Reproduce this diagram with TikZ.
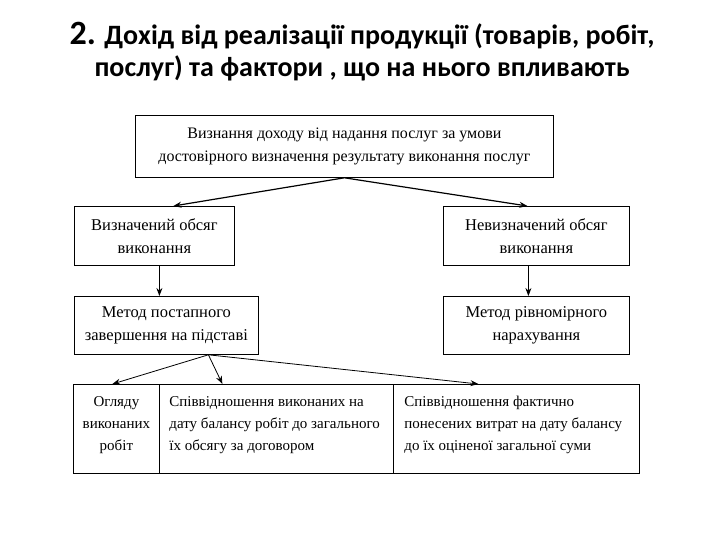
\documentclass[tikz,border=0pt]{standalone}
\usepackage{fontspec}
\setmainfont{Liberation Serif}
\newfontfamily\titlefont{Carlito}
\usetikzlibrary{arrows.meta,positioning}

\begin{document}
\begin{tikzpicture}[
  x=1pt, y=-1pt,
  >={Stealth[length=8pt,width=6pt]},
  box/.style={draw, line width=0.8pt, align=center, anchor=north west, inner sep=0pt,
    font=\fontsize{16.5}{23}\selectfont},
  cell/.style={box, minimum height=89pt, font=\fontsize{15}{22}\selectfont},
  arr/.style={->, line width=1.2pt},
  thinarr/.style={->, line width=0.8pt},
]
  \useasboundingbox (0,0) rectangle (720,540);

  % Title
  \node[font=\titlefont\bfseries\fontsize{28}{32}\selectfont, align=center] (title) at (362,52)
    {{\fontsize{34}{32}\selectfont 2.} Дохід від реалізації продукції (товарів, робіт,\\
     послуг) та фактори , що на нього впливають};

  % Top box
  \node[box, minimum width=418pt, minimum height=62pt, font=\fontsize{16}{23}\selectfont] (recog) at (135,115)
    {Визнання доходу від надання послуг за умови\\
     достовірного визначення результату виконання послуг};

  % Second row
  \node[box, minimum width=160pt, minimum height=59pt] (defined) at (74,206)
    {Визначений обсяг\\виконання};
  \node[box, minimum width=186pt, minimum height=59pt] (undefined) at (443,206)
    {Невизначений обсяг\\виконання};

  % Methods
  \node[box, minimum width=184pt, minimum height=58pt] (stagewise) at (74,296)
    {Метод постапного\\завершення на підставі};
  \node[box, minimum width=186pt, minimum height=58pt] (uniform) at (443,296)
    {Метод рівномірного\\нарахування};

  % Bottom cells
  \node[cell, minimum width=86pt] (review) at (73,384)
    {\begin{minipage}[c][89pt][t]{86pt}\centering\vspace{12pt}
     Огляду\\виконаних\\робіт\end{minipage}};
  \node[cell, minimum width=234pt, inner xsep=10pt] (works) at (159,384)
    {\begin{minipage}[c][89pt][t]{214pt}\raggedright\vspace{12pt}
     \mbox{Співвідношення виконаних на}\\\mbox{дату балансу робіт до загального}\\
     \mbox{їх обсягу за договором}\end{minipage}};
  \node[cell, minimum width=246pt, inner xsep=11pt] (costs) at (393,384)
    {\begin{minipage}[c][89pt][t]{224pt}\raggedright\vspace{12pt}
     \mbox{Співвідношення фактично}\\\mbox{понесених витрат на дату балансу}\\
     \mbox{до їх оціненої загальної суми}\end{minipage}};

  % Connectors
  \draw[arr] (recog.south) -- ([xshift=19pt]defined.north);
  \draw[arr] (recog.south) -- ([xshift=-9pt]undefined.north);
  \draw[arr] ([xshift=5pt]defined.south) -- ([xshift=-7pt]stagewise.north);
  \draw[thinarr] ([xshift=-8pt]undefined.south) -- ([xshift=-8pt]uniform.north);
  \draw[thinarr] ([xshift=42pt]stagewise.south) -- ([xshift=-4pt]review.north);
  \draw[thinarr] ([xshift=42pt]stagewise.south) -- ([xshift=-54pt]works.north);
  \draw[thinarr] ([xshift=42pt]stagewise.south) -- ([xshift=-38pt]costs.north);
\end{tikzpicture}
\end{document}
